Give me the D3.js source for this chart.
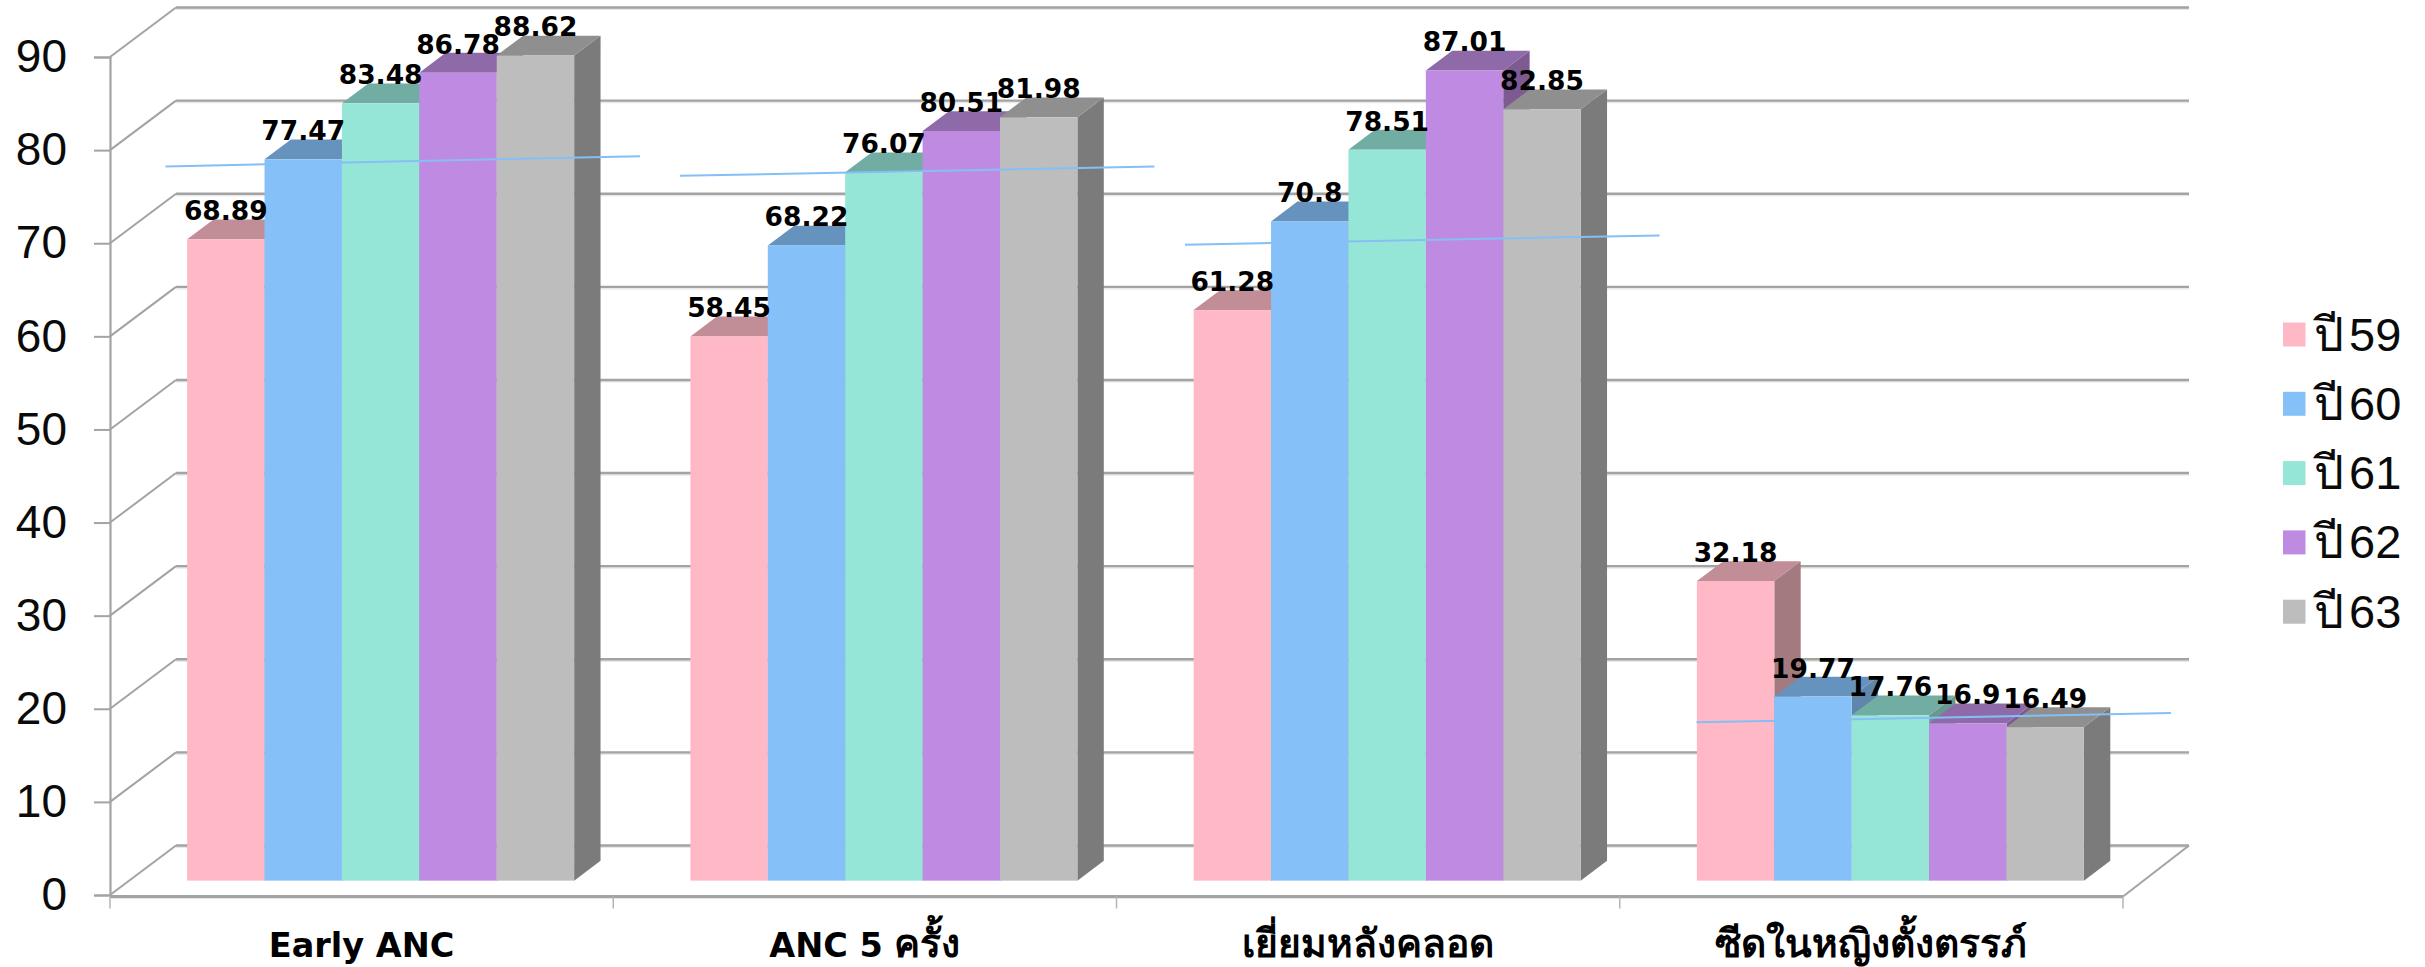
<!DOCTYPE html>
<html lang="th">
<head>
<meta charset="utf-8">
<script src="https://cdn.jsdelivr.net/npm/d3@7/dist/d3.min.js"></script>
<style>
  html, body { margin: 0; padding: 0; background: #fff; }
  svg { display: block; }
  text { fill: #0a0a0a; }
  .val { font: bold 26.5px "DejaVu Sans", sans-serif; text-anchor: middle; fill: #000; }
  .cat { font: bold 33.5px "DejaVu Sans", "Noto Sans", sans-serif; text-anchor: middle; fill: #000; }
  .cat .th { font-size: 39px; }
  .yt  { font: 46px "Liberation Sans", Arial, sans-serif; }
  .leg { font: 47px "Liberation Sans", Arial, sans-serif; word-spacing: -8px; }
</style>
</head>
<body>
<svg id="chart" width="2425" height="967"></svg>
<script>
const categories = ["Early ANC", "ANC 5 ครั้ง", "เยี่ยมหลังคลอด", "ซีดในหญิงตั้งตรรภ์"];
const seriesNames = ["ปี 59", "ปี 60", "ปี 61", "ปี 62", "ปี 63"];
const y59 = [68.89, 58.45, 61.28, 32.18];
const y60 = [77.47, 68.22, 70.8, 19.77];
const y61 = [83.48, 76.07, 78.51, 17.76];
const y62 = [86.78, 80.51, 87.01, 16.9];
const y63 = [88.62, 81.98, 82.85, 16.49];
const seriesValues = [y59, y60, y61, y62, y63];
const trendStart = [76.7, 75.7, 68.3, 17.0];
const trendEnd = [77.8, 76.7, 69.3, 18.0];
const trendInset = [55.5, 66.7, 68.5, 76.7];
const yTicks = [0, 10, 20, 30, 40, 50, 60, 70, 80, 90];

const fronts = ["#ffb9c6", "#85c1f8", "#96e6d8", "#bf8ae2", "#bdbdbd"];
const tops   = ["#c18e98", "#6693bd", "#72ada3", "#8f6aa8", "#8f8f8f"];
const sides  = ["#a27a80", "#5f86ab", "#68998f", "#7d5b92", "#7b7b7b"];

const svg = d3.select("#chart");

// Oblique projection: the floor recedes up and to the right.
const depthDX = 66, depthDY = 49.5;
const x = d3.scaleBand().domain(categories).range([110, 2123]);
const y = d3.scaleLinear().domain([0, 90]).range([895, 57]);
const inner = d3.scaleBand().domain(d3.range(5)).range([0, 387]);
const groupInset = 58;           // first bar starts this far into the band
const barFront = 0.29, barBack = 0.69;   // depth of the bar's faces, floor = 0..1

const px = (xv, d) => xv + depthDX * d;
const py = (v, d) => y(v) - depthDY * d;
const poly = pts => pts.map(p => p.join(",")).join(" ");

// Side walls and back wall gridlines
const grid = svg.append("g").attr("fill", "none").attr("stroke", "#a3a3a3");
yTicks.forEach(t => {
  const back = py(t, 1);
  grid.append("line").attr("x1", px(110, 1)).attr("x2", px(2123, 1))
      .attr("y1", back + 1.6).attr("y2", back + 1.6).attr("stroke", "#e8e8e8").attr("stroke-width", 2);
  grid.append("line").attr("x1", px(110, 1)).attr("x2", px(2123, 1))
      .attr("y1", back).attr("y2", back).attr("stroke-width", 2.4);
  grid.append("line").attr("x1", 110).attr("x2", px(110, 1))
      .attr("y1", y(t)).attr("y2", back).attr("stroke-width", 2);
});
grid.append("line").attr("x1", 2123).attr("x2", px(2123, 1))
    .attr("y1", y(0) + 1.5).attr("y2", py(0, 1)).attr("stroke-width", 2);

// Value axis
const yAxis = d3.axisLeft(y).tickValues(yTicks).tickSize(16).tickPadding(27);
const yG = svg.append("g").attr("transform", "translate(110,0)").call(yAxis);
yG.select(".domain").attr("stroke", "#a3a3a3").attr("stroke-width", 2.2);
yG.selectAll(".tick line").attr("stroke", "#a3a3a3").attr("stroke-width", 2);
yG.selectAll(".tick text").attr("class", "yt").attr("font-size", null).attr("font-family", null);
yG.attr("font-size", null).attr("font-family", null);

// Floor edge and category separators
const floorY = y(0) + 1.5;
svg.append("line").attr("x1", 110).attr("x2", 2123).attr("y1", floorY + 1.5).attr("y2", floorY + 1.5)
   .attr("stroke", "#e6e6e6").attr("stroke-width", 2);
svg.append("line").attr("x1", 110).attr("x2", 2123).attr("y1", floorY).attr("y2", floorY)
   .attr("stroke", "#a3a3a3").attr("stroke-width", 3);
[...categories.map(c => x(c)), x.range()[1]].forEach(e => {
  svg.append("line").attr("x1", e).attr("x2", e).attr("y1", floorY).attr("y2", floorY + 12)
     .attr("stroke", "#b5b5b5").attr("stroke-width", 1.5);
});

// Left edge of a bar's front face
const barLeft = (c, si) => px(x(c) + groupInset + inner(si), barFront);

// Bars, painted left to right so each front face hides its neighbour's side
const bars = svg.append("g");
categories.forEach((c, ci) => {
  seriesValues.forEach((vals, si) => {
    const v = vals[ci];
    const fx0 = barLeft(c, si), fx1 = fx0 + inner.bandwidth();
    const bdx = depthDX * (barBack - barFront);
    const bdy = depthDY * (barBack - barFront);
    const fTop = py(v, barFront), fBase = py(0, barFront);
    const g = bars.append("g");
    g.append("polygon").attr("fill", sides[si])
      .attr("points", poly([[fx1, fTop], [fx1 + bdx, fTop - bdy], [fx1 + bdx, fBase - bdy], [fx1, fBase]]));
    g.append("polygon").attr("fill", tops[si])
      .attr("points", poly([[fx0, fTop], [fx0 + bdx, fTop - bdy], [fx1 + bdx, fTop - bdy], [fx1, fTop]]));
    g.append("rect").attr("fill", fronts[si])
      .attr("x", fx0).attr("y", fTop).attr("width", fx1 - fx0).attr("height", fBase - fTop);
  });
});

// One thin rising line across each category
const trend = svg.append("g").attr("stroke", "#85bff5").attr("stroke-width", 2).attr("fill", "none");
categories.forEach((c, i) => {
  const x0 = x(c) + trendInset[i];
  trend.append("line").attr("x1", x0).attr("x2", x0 + 474.5)
       .attr("y1", py(trendStart[i], barFront)).attr("y2", py(trendEnd[i], barFront));
});

// Value labels, above everything else
const labels = svg.append("g");
categories.forEach((c, ci) => {
  seriesValues.forEach((vals, si) => {
    const v = vals[ci];
    labels.append("text").attr("class", "val")
      .attr("x", barLeft(c, si) + inner.bandwidth() / 2).attr("y", py(v, barFront) - 19).text(v);
  });
});

// Category names; Thai runs are set a little larger than Latin ones
svg.append("g").selectAll("text").data(categories).join("text")
   .attr("class", "cat").attr("x", d => x(d) + x.bandwidth() / 2).attr("y", 957)
   .each(function (d) {
     const t = d3.select(this);
     d.split(/([\u0E00-\u0E7F]+)/).filter(s => s).forEach(run => {
       t.append("tspan").classed("th", /[\u0E00-\u0E7F]/.test(run)).text(run);
     });
   });

// Legend
const legend = d3.scaleBand().domain(seriesNames).range([300.5, 647]);
const lg = svg.append("g").selectAll("g").data(seriesNames).join("g")
   .attr("transform", d => `translate(2283,${legend(d)})`);
lg.append("rect").attr("width", 22.5).attr("height", 24).attr("y", 22).attr("fill", (d, i) => fronts[i]);
lg.append("text").attr("class", "leg").attr("x", 31).attr("y", 50).text(d => d);
</script>
</body>
</html>
